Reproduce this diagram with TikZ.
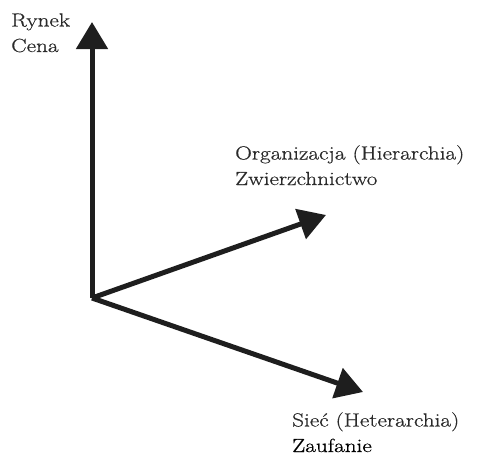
\documentclass[tikz,border=0pt]{standalone}
\usepackage{fontspec}
\setmainfont{Latin Modern Roman}[FakeStretch=1.22,FakeBold=0.6]
\usetikzlibrary{arrows.meta}
\definecolor{encre}{HTML}{1E1E1E}
\definecolor{texte}{HTML}{2A2A2A}

\begin{document}
\begin{tikzpicture}[x=1pt,y=-1pt]
 \tikzstyle{axe}=[-{Triangle[length=27pt,width=31pt]},line width=5pt,encre]
 \tikzstyle{etiq}=[anchor=base west,align=left,inner sep=0pt,text=texte,font=\fontsize{19}{25.5}\selectfont]
 \useasboundingbox (0,0) rectangle (477,458);
 \coordinate (O) at (92,298);
 \coordinate (Ry) at (92,22);
 \coordinate (Or) at (326,215);
 \coordinate (Si) at (363,392);
 \node[etiq] (LRy) at (11,52) {Rynek\\Cena};
 \node[etiq] (LOr) at (235,185) {Organizacja (Hierarchia)\\Zwierzchnictwo};
 \node[etiq] (LSi) at (292,452) {Sieć (Heterarchia)\\\textcolor{black}{Zaufanie}};
 \draw[axe] (O)--(Ry);
 \draw[axe] (O)--(Or);
 \draw[axe] (O)--(Si);
\end{tikzpicture}
\end{document}
